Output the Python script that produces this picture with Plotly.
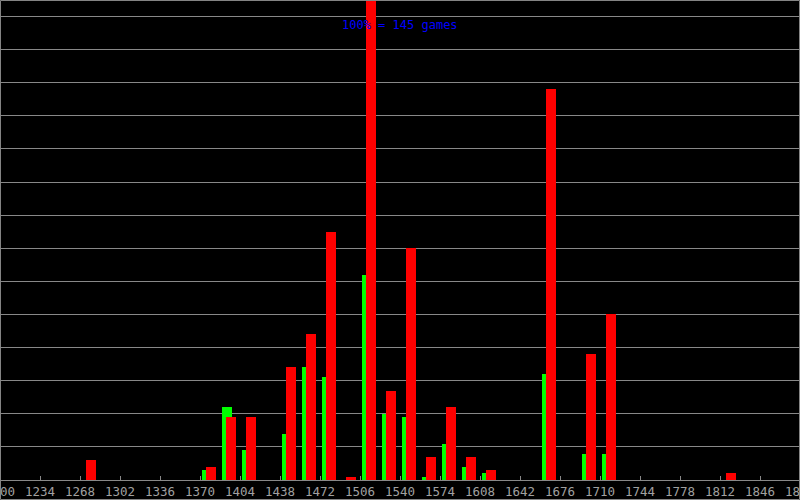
import plotly.graph_objects as go

# Rating bins (bin start, 17 Elo wide)
bin_starts = [1268, 1370, 1387, 1404, 1438, 1455, 1472, 1489, 1506, 1523,
              1540, 1557, 1574, 1591, 1608, 1659, 1693, 1710, 1812]
green_vals = [0, 3, 22, 9, 14, 34, 31, 0, 62, 20,
              19, 1, 11, 4, 2, 32, 8, 8, 0]
red_vals = [6, 4, 19, 19, 34, 44, 75, 1, 145, 27,
            70, 7, 22, 7, 3, 118, 38, 50, 2]
tick_vals = list(range(1200, 1881, 34))
tick_text = [str(v) for v in tick_vals]
max_games = 145
label_text = "100% = 145 games"

BIN = 17.0
fig = go.Figure()
fig.add_trace(go.Bar(x=bin_starts, y=green_vals, width=BIN * 0.5, offset=BIN * 0.1,
                     marker=dict(color="#00ff00", line=dict(width=0)), showlegend=False))
fig.add_trace(go.Bar(x=bin_starts, y=red_vals, width=BIN * 0.5, offset=BIN * 0.3,
                     marker=dict(color="#ff0000", line=dict(width=0)), showlegend=False))

fig.update_layout(
    width=800, height=500,
    margin=dict(l=0, r=0, t=0, b=20, pad=0, autoexpand=False),
    paper_bgcolor="black", plot_bgcolor="black",
    barmode="overlay", bargap=0,
    font=dict(family="DejaVu Sans Mono", size=12, color="#a0a0a0"),
    xaxis=dict(range=[1200, 1880], tickvals=tick_vals, ticktext=tick_text,
               showgrid=False, zeroline=False, showline=True, linecolor="#888888",
               linewidth=1, ticks="inside", ticklen=4, tickcolor="#888888",
               tickfont=dict(family="DejaVu Sans Mono", size=12.5, color="#a0a0a0"),
               ticklabeloverflow="allow", automargin=False, fixedrange=True),
    yaxis=dict(range=[0, max_games], dtick=10, showgrid=True, gridcolor="#888888",
               gridwidth=1, showticklabels=False, zeroline=False, showline=False,
               automargin=False, fixedrange=True),
    annotations=[dict(x=0.5, y=max_games * (480 - 25) / 480, xref="paper", yref="y",
                      text=label_text, showarrow=False,
                      font=dict(family="DejaVu Sans Mono", size=12, color="#0000ff"))],
    shapes=[dict(type="rect", xref="paper", yref="paper", x0=0.0006, x1=0.9994,
                 y0=-20 / 480 + 0.001, y1=0.999, line=dict(color="#888888", width=1),
                 layer="above")],
)

fig.write_html("out.html", config={"displayModeBar": False},
               post_script="document.body.style.margin='0';")
